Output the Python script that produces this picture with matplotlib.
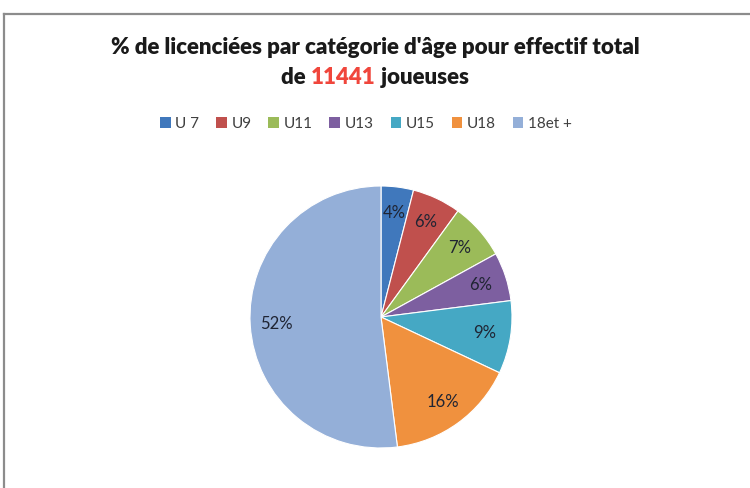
import matplotlib
matplotlib.use("Agg")
import matplotlib.pyplot as plt
from matplotlib.patches import Patch
from matplotlib.lines import Line2D

categories = ["U 7", "U9", "U11", "U13", "U15", "U18", "18et +"]
values = [4, 6, 7, 6, 9, 16, 52]
colors = ["#4078BC", "#C0504D", "#9BBB59", "#7D5FA0", "#45A8C4", "#F0913E", "#94AFD8"]
title_line1 = "% de licenciées par catégorie d'âge pour effectif total"
title_pre, title_num, title_post = "de ", "11441", " joueuses"

plt.rcParams['font.family'] = ['Lato', 'DejaVu Sans']

W, H = 750, 488
fig = plt.figure(figsize=(W / 100, H / 100), dpi=100)
fig.patch.set_facecolor("white")

# frame lines
fig.add_artist(Line2D([4 / W, 4 / W], [0, 1 - 14 / H], color="#8C8C8C", lw=1.6, transform=fig.transFigure))
fig.add_artist(Line2D([4 / W, 1], [1 - 14 / H, 1 - 14 / H], color="#8C8C8C", lw=1.6, transform=fig.transFigure))

cx, cy, r = 381, 317, 131
ax = fig.add_axes([(cx - r) / W, (H - cy - r) / H, 2 * r / W, 2 * r / H])
wedges, texts = ax.pie(values, colors=colors, startangle=90, counterclock=False,
                       labels=[f"{v}%" for v in values], labeldistance=0.8,
                       wedgeprops=dict(edgecolor="white", linewidth=0.8),
                       textprops=dict(fontsize=12, color="#1F2433"))
for t in texts:
    t.set_ha("center")
    t.set_va("center")
ax.set_xlim(-1, 1)
ax.set_ylim(-1, 1)
ax.set_aspect("equal")
ax.axis("off")

tsize = 16
fig.text(0.5, 1 - 48 / H, title_line1, ha="center", va="center", fontsize=tsize,
         fontweight="heavy", color="#1A1A1A")

# second line with red number
fig.canvas.draw()
r_ = fig.canvas.get_renderer()
parts = [(title_pre, "#1A1A1A"), (title_num, "#F0463C"), (title_post, "#1A1A1A")]
objs = []
for s, c in parts:
    t = fig.text(0, 1 - 77 / H, s, ha="left", va="center", fontsize=tsize, fontweight="heavy", color=c)
    objs.append(t)
widths = [t.get_window_extent(r_).width for t in objs]
total = sum(widths)
x0 = (W - total) / 2
for t, w in zip(objs, widths):
    t.set_x(x0 / W)
    x0 += w

handles = [Patch(facecolor=c, edgecolor="none") for c in colors]
fig.legend(handles, categories, loc="center", bbox_to_anchor=(366 / W, 1 - 124 / H), ncol=7,
           frameon=False, fontsize=11, handlelength=0.7, handleheight=0.7, handletextpad=0.3,
           columnspacing=1.1, labelcolor="#404040")

fig.savefig("out.png", dpi=100)
